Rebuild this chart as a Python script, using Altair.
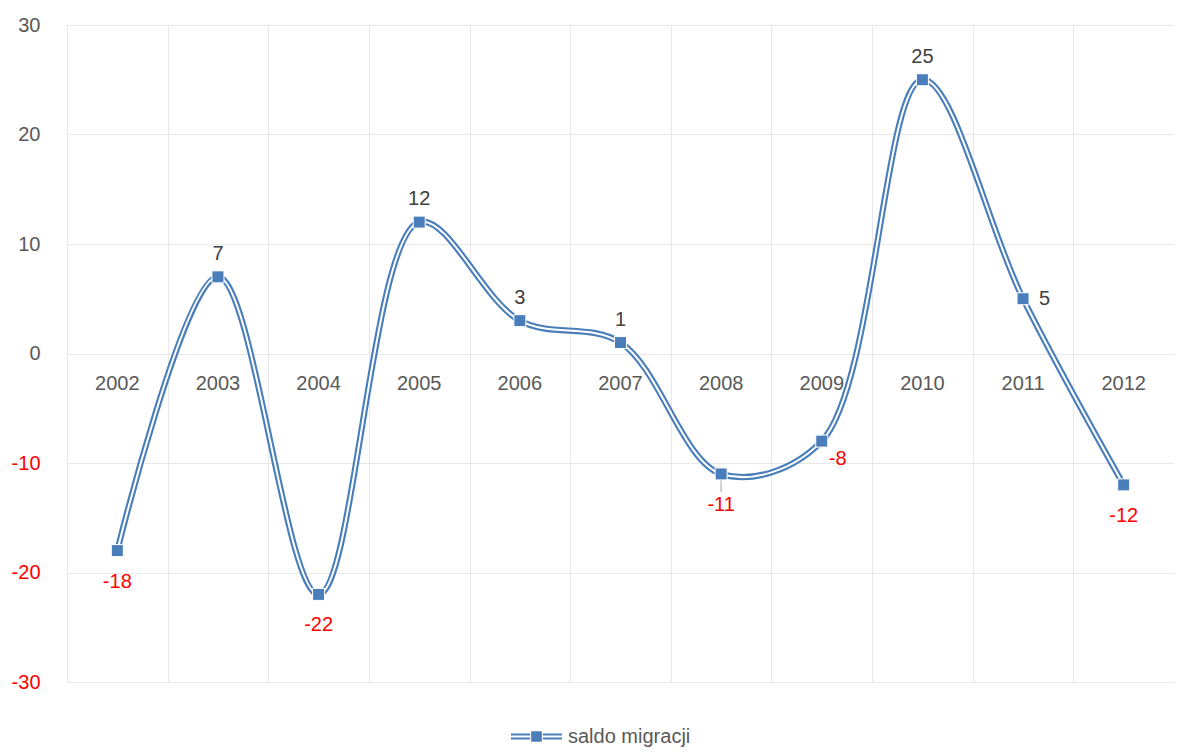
import altair as alt
import pandas as pd

years = ["2002", "2003", "2004", "2005", "2006", "2007", "2008", "2009", "2010", "2011", "2012"]
saldo = [-18, 7, -22, 12, 3, 1, -11, -8, 25, 5, -12]
series_name = "saldo migracji"
y_ticks = [-30, -20, -10, 0, 10, 20, 30]

df = pd.DataFrame({"rok": years, "saldo": saldo, "seria": series_name})

FONT = "Liberation Sans"
FS = 20
BLUE = "#4a7ebb"
GRID = "#e8e8e8"
RED = "#ff0000"
TXT = "#404040"
AX = "#595959"

x = alt.X(
    "rok:N", sort=years,
    scale=alt.Scale(type="band", paddingInner=0, paddingOuter=0),
    axis=alt.Axis(title=None, labels=False, ticks=False, domain=False, grid=True,
                  tickBand="extent", gridColor=GRID, gridWidth=1),
)
y_axis = alt.Axis(values=y_ticks, title=None, ticks=False, domain=False, grid=True,
                  gridColor=GRID, gridWidth=1, labelPadding=27, labelFont=FONT,
                  labelFontSize=FS, labelExpr="'' + datum.value",
                  labelColor={"condition": {"test": "datum.value < 0", "value": RED}, "value": AX})
y = alt.Y("saldo:Q", scale=alt.Scale(domain=[-30, 30], nice=False, zero=False), axis=y_axis)

base = alt.Chart(df).encode(x=x, y=y).transform_calculate(lbl="'' + datum.saldo")

line_outer = base.mark_line(interpolate="catmull-rom", color=BLUE, strokeWidth=6.2)
line_inner = base.mark_line(interpolate="catmull-rom", color="white", strokeWidth=2)

legend_path = ("M-1,-0.12H-0.25V-0.04H-1Z M-1,0.04H-0.25V0.12H-1Z "
               "M-0.21,-0.21H0.21V0.21H-0.21Z "
               "M0.25,-0.12H1V-0.04H0.25Z M0.25,0.04H1V0.12H0.25Z")

leader = base.mark_tick(orient="vertical", color="#a6a6a6", thickness=1.5, size=12, yOffset=12).transform_filter(
    "datum.rok == '2008'")

points = base.mark_square(size=144, filled=True, opacity=1, stroke="white", strokeWidth=1).encode(
    color=alt.Color("seria:N", scale=alt.Scale(range=[BLUE]),
                    legend=alt.Legend(title=None, orient="none", legendX=444, legendY=686,
                                      symbolType=legend_path, symbolSize=2601,
                                      symbolStrokeWidth=0, labelFont=FONT, labelFontSize=FS,
                                      labelColor=AX, labelOffset=6, padding=0))
)

pos_labels = base.mark_text(dy=-23, font=FONT, fontSize=FS, color=TXT).encode(
    text="lbl:N").transform_filter("datum.saldo >= 0 && datum.rok != '2011'")
r_labels = base.mark_text(dx=16, align="left", dy=0, font=FONT, fontSize=FS, color=TXT).encode(
    text="lbl:N").transform_filter("datum.rok == '2011'")
neg_labels = base.mark_text(dy=31, font=FONT, fontSize=FS, color=RED).encode(
    text="lbl:N").transform_filter("datum.saldo < 0 && datum.rok != '2009'")
br_labels = base.mark_text(dx=7, dy=18, align="left", font=FONT, fontSize=FS, color=RED).encode(
    text="lbl:N").transform_filter("datum.rok == '2009'")

year_labels = alt.Chart(df).mark_text(dy=30, font=FONT, fontSize=FS, color=AX).encode(
    x=x, y=alt.Y(datum=0, axis=y_axis, scale=alt.Scale(domain=[-30, 30], nice=False, zero=False)),
    text="rok:N")

chart = alt.layer(
    line_outer, line_inner, leader, points, pos_labels, r_labels, neg_labels, br_labels, year_labels
).properties(
    width=1107, height=657,
    autosize=alt.AutoSizeParams(type="none"),
    padding={"left": 59, "top": 17, "right": 0, "bottom": 66},
).configure_view(stroke=None).configure_axis(labelFont=FONT)

chart.save("out.html", embed_options={"renderer": "svg", "actions": False})
